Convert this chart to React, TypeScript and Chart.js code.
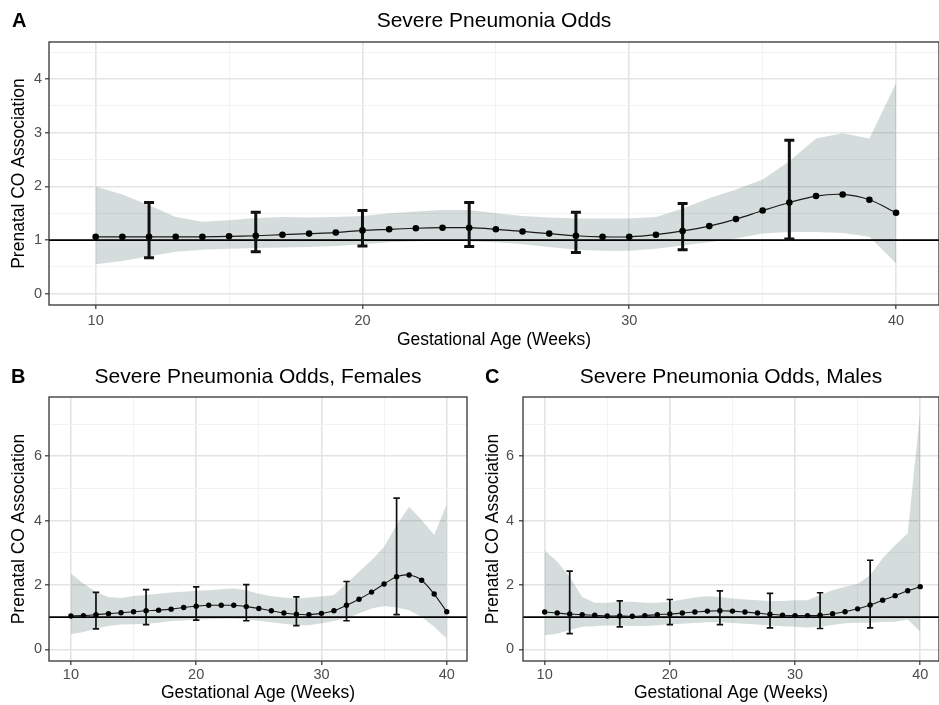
import React, { useEffect, useRef } from "react";
import { Chart, registerables } from "chart.js";

Chart.register(...registerables);

const FONT = "'Liberation Sans', Arial, Helvetica, sans-serif";
const RIBBON = "rgba(47,79,79,0.2)";

// ---- shared axes ----
const weeks = [10, 11, 12, 13, 14, 15, 16, 17, 18, 19, 20, 21, 22, 23, 24, 25, 26, 27, 28, 29, 30, 31, 32, 33, 34, 35, 36, 37, 38, 39, 40];
const errWeeks = [12, 16, 20, 24, 28, 32, 36];
const xTickValues = [10, 15, 20, 25, 30, 35, 40];
const xMajorTicks = [10, 20, 30, 40];
const yTickValuesA = [0, 0.5, 1, 1.5, 2, 2.5, 3, 3.5, 4, 4.5];
const yMajorTicksA = [0, 1, 2, 3, 4];
const yTickValuesBC = [0, 1, 2, 3, 4, 5, 6, 7];
const yMajorTicksBC = [0, 2, 4, 6];

// ---- Panel A: all ----
const estA = [1.06, 1.06, 1.06, 1.06, 1.06, 1.07, 1.08, 1.10, 1.12, 1.14, 1.18, 1.20, 1.22, 1.23, 1.23, 1.20, 1.16, 1.12, 1.08, 1.06, 1.06, 1.10, 1.17, 1.26, 1.39, 1.55, 1.70, 1.82, 1.85, 1.75, 1.51];
const upperA = [2.00, 1.85, 1.65, 1.43, 1.34, 1.37, 1.41, 1.43, 1.42, 1.43, 1.45, 1.50, 1.53, 1.56, 1.56, 1.50, 1.45, 1.42, 1.40, 1.40, 1.40, 1.43, 1.59, 1.78, 1.94, 2.13, 2.47, 2.89, 2.99, 2.89, 3.92];
const lowerA = [0.55, 0.61, 0.70, 0.78, 0.82, 0.84, 0.85, 0.86, 0.87, 0.89, 0.92, 0.96, 0.98, 0.99, 0.98, 0.96, 0.92, 0.87, 0.82, 0.80, 0.80, 0.84, 0.90, 0.96, 1.03, 1.12, 1.15, 1.15, 1.13, 1.06, 0.57];
const errLoA = [0.67, 0.78, 0.89, 0.88, 0.77, 0.82, 1.02];
const errHiA = [1.70, 1.52, 1.55, 1.70, 1.52, 1.68, 2.86];

// ---- Panel B: females ----
const estB = [1.04, 1.05, 1.08, 1.11, 1.14, 1.17, 1.20, 1.22, 1.25, 1.30, 1.34, 1.37, 1.37, 1.37, 1.33, 1.27, 1.20, 1.13, 1.09, 1.08, 1.12, 1.20, 1.37, 1.56, 1.78, 2.03, 2.26, 2.31, 2.15, 1.72, 1.17];
const upperB = [2.36, 2.05, 1.78, 1.63, 1.60, 1.66, 1.69, 1.73, 1.77, 1.79, 1.82, 1.84, 1.87, 1.89, 1.84, 1.73, 1.65, 1.61, 1.58, 1.61, 1.64, 1.69, 2.05, 2.41, 2.77, 3.19, 3.86, 4.43, 4.02, 3.55, 4.51];
const lowerB = [0.47, 0.54, 0.65, 0.73, 0.77, 0.78, 0.80, 0.83, 0.88, 0.90, 0.93, 0.94, 0.95, 0.95, 0.93, 0.89, 0.84, 0.80, 0.75, 0.75, 0.81, 0.88, 0.96, 1.12, 1.27, 1.35, 1.30, 1.22, 1.01, 0.70, 0.34];
const errLoB = [0.64, 0.77, 0.91, 0.89, 0.74, 0.89, 1.08];
const errHiB = [1.77, 1.86, 1.94, 2.01, 1.63, 2.11, 4.70];

// ---- Panel C: males ----
const estC = [1.16, 1.13, 1.10, 1.08, 1.06, 1.04, 1.04, 1.03, 1.05, 1.08, 1.10, 1.13, 1.16, 1.19, 1.20, 1.19, 1.16, 1.13, 1.09, 1.06, 1.05, 1.05, 1.06, 1.11, 1.17, 1.26, 1.38, 1.53, 1.67, 1.82, 1.95];
const upperC = [3.07, 2.73, 2.25, 1.63, 1.45, 1.45, 1.48, 1.48, 1.45, 1.45, 1.48, 1.55, 1.61, 1.65, 1.63, 1.58, 1.55, 1.53, 1.50, 1.50, 1.53, 1.53, 1.69, 1.84, 1.95, 2.03, 2.31, 2.83, 3.24, 3.60, 7.40];
const lowerC = [0.44, 0.49, 0.60, 0.70, 0.72, 0.74, 0.74, 0.73, 0.73, 0.75, 0.78, 0.80, 0.82, 0.84, 0.84, 0.82, 0.80, 0.77, 0.74, 0.72, 0.70, 0.68, 0.70, 0.76, 0.81, 0.83, 0.83, 0.85, 0.86, 0.93, 0.55];
const errLoC = [0.49, 0.70, 0.77, 0.77, 0.67, 0.65, 0.67];
const errHiC = [2.43, 1.51, 1.55, 1.82, 1.74, 1.76, 2.77];

const REF_VALUE = 1;
const X_TITLE = "Gestational Age (Weeks)";
const Y_TITLE = "Prenatal CO Association";

type Spec = {
  est: number[];
  upper: number[];
  lower: number[];
  errLo: number[];
  errHi: number[];
  yTicks: number[];
  yMajor: number[];
  yMin: number;
  yMax: number;
  xMin: number;
  xMax: number;
  pad: { top: number; right: number; left: number; bottom: number };
  yWidth: number;
  xHeight: number;
  xTitlePad: number;
  yTitlePad: number;
  yTickPad: number;
  xTickPad: number;
  pointR: number;
  lineW: number;
  errW: number;
  capHalf: number;
  hlineW: number;
};

const decoPlugin = {
  id: "deco",
  afterDatasetDraw(chart: any, args: any, opts: any) {
    if (args.index !== 0) return;
    const { ctx, chartArea, scales } = chart;
    const x = scales.x;
    const y = scales.y;
    ctx.save();
    ctx.beginPath();
    ctx.rect(chartArea.left, chartArea.top, chartArea.right - chartArea.left, chartArea.bottom - chartArea.top);
    ctx.clip();
    // reference line
    const yp = y.getPixelForValue(REF_VALUE);
    ctx.strokeStyle = "#000";
    ctx.lineWidth = opts.hlineW;
    ctx.beginPath();
    ctx.moveTo(chartArea.left, yp);
    ctx.lineTo(chartArea.right, yp);
    ctx.stroke();
    // error bars
    ctx.strokeStyle = "#111";
    ctx.lineWidth = opts.errW;
    ctx.lineCap = "butt";
    errWeeks.forEach((w: number, i: number) => {
      const xp = x.getPixelForValue(w);
      const lo = y.getPixelForValue(opts.errLo[i]);
      const hi = y.getPixelForValue(opts.errHi[i]);
      ctx.beginPath();
      ctx.moveTo(xp, lo);
      ctx.lineTo(xp, hi);
      ctx.moveTo(xp - opts.capHalf, lo);
      ctx.lineTo(xp + opts.capHalf, lo);
      ctx.moveTo(xp - opts.capHalf, hi);
      ctx.lineTo(xp + opts.capHalf, hi);
      ctx.stroke();
    });
    ctx.restore();
  },
  afterDraw(chart: any) {
    const { ctx, chartArea } = chart;
    ctx.save();
    ctx.strokeStyle = "#333333";
    ctx.lineWidth = 1.3;
    ctx.strokeRect(chartArea.left, chartArea.top, chartArea.right - chartArea.left, chartArea.bottom - chartArea.top);
    ctx.restore();
  },
};

function makeChart(canvas: HTMLCanvasElement, s: Spec) {
  const pts = (arr: number[]) => weeks.map((w, i) => ({ x: w, y: arr[i] }));
  const isMajX = (v: number) => xMajorTicks.includes(v);
  const isMajY = (v: number) => s.yMajor.includes(v);
  return new Chart(canvas, {
    type: "line",
    data: {
      datasets: [
        {
          data: pts(s.upper),
          fill: "+1",
          backgroundColor: RIBBON,
          borderColor: "rgba(0,0,0,0)",
          borderWidth: 0,
          pointRadius: 0,
          tension: 0,
          order: 2,
        },
        {
          data: pts(s.lower),
          fill: false,
          borderColor: "rgba(0,0,0,0)",
          borderWidth: 0,
          pointRadius: 0,
          tension: 0,
          order: 2,
        },
        {
          data: pts(s.est),
          fill: false,
          borderColor: "#1a1a1a",
          borderWidth: s.lineW,
          pointRadius: s.pointR,
          pointBackgroundColor: "#000",
          pointBorderWidth: 0,
          tension: 0.3,
          order: 0,
        },
      ],
    },
    options: {
      animation: false,
      responsive: false,
      events: [],
      layout: { padding: s.pad, autoPadding: false },
      plugins: {
        legend: { display: false },
        tooltip: { enabled: false },
        deco: {
          errLo: s.errLo,
          errHi: s.errHi,
          errW: s.errW,
          capHalf: s.capHalf,
          hlineW: s.hlineW,
        },
      } as any,
      scales: {
        x: {
          type: "linear",
          min: s.xMin,
          max: s.xMax,
          afterBuildTicks: (sc: any) => {
            sc.ticks = xTickValues.map((v) => ({ value: v }));
          },
          afterFit: (sc: any) => {
            sc.height = s.xHeight;
          },
          border: { display: false },
          grid: {
            color: (c: any) => (c.tick && isMajX(c.tick.value) ? "#e4e4e4" : "#f1f1f1"),
            lineWidth: (c: any) => (c.tick && isMajX(c.tick.value) ? 1.6 : 0.9),
            tickColor: (c: any) => (c.tick && isMajX(c.tick.value) ? "#333333" : "rgba(0,0,0,0)"),
            tickLength: 4,
            tickWidth: 1.2,
            drawTicks: true,
          },
          ticks: {
            autoSkip: false,
            maxRotation: 0,
            minRotation: 0,
            padding: s.xTickPad,
            color: "#4d4d4d",
            font: { family: FONT, size: 14.5 },
            callback: (v: any) => (isMajX(Number(v)) ? String(v) : ""),
          },
          title: {
            display: true,
            text: X_TITLE,
            color: "#000",
            font: { family: FONT, size: 17.5 },
            padding: { top: 0, bottom: s.xTitlePad },
          },
        },
        y: {
          type: "linear",
          min: s.yMin,
          max: s.yMax,
          afterBuildTicks: (sc: any) => {
            sc.ticks = s.yTicks.map((v) => ({ value: v }));
          },
          afterFit: (sc: any) => {
            sc.width = s.yWidth;
          },
          border: { display: false },
          grid: {
            color: (c: any) => (c.tick && isMajY(c.tick.value) ? "#e4e4e4" : "#f1f1f1"),
            lineWidth: (c: any) => (c.tick && isMajY(c.tick.value) ? 1.6 : 0.9),
            tickColor: (c: any) => (c.tick && isMajY(c.tick.value) ? "#333333" : "rgba(0,0,0,0)"),
            tickLength: 4,
            tickWidth: 1.2,
            drawTicks: true,
          },
          ticks: {
            autoSkip: false,
            padding: s.yTickPad,
            color: "#4d4d4d",
            font: { family: FONT, size: 14.5 },
            callback: (v: any) => (isMajY(Number(v)) ? String(v) : ""),
          },
          title: {
            display: true,
            text: Y_TITLE,
            color: "#000",
            font: { family: FONT, size: 17.5 },
            padding: { top: s.yTitlePad, bottom: 0 },
          },
        },
      },
    } as any,
    plugins: [decoPlugin as any],
  });
}

const specA: Spec = {
  est: estA, upper: upperA, lower: lowerA, errLo: errLoA, errHi: errHiA,
  yTicks: yTickValuesA, yMajor: yMajorTicksA, yMin: -0.21, yMax: 4.69,
  xMin: 8.25, xMax: 41.61,
  pad: { top: 42, right: 0, left: 0, bottom: 0 },
  yWidth: 49, xHeight: 47, xTitlePad: 1.5, yTitlePad: 8.8, yTickPad: 3, xTickPad: 3,
  pointR: 3.3, lineW: 1.2, errW: 3, capHalf: 5, hlineW: 1.8,
};

const specB: Spec = {
  est: estB, upper: upperB, lower: lowerB, errLo: errLoB, errHi: errHiB,
  yTicks: yTickValuesBC, yMajor: yMajorTicksBC, yMin: -0.36, yMax: 7.84,
  xMin: 8.25, xMax: 41.62,
  pad: { top: 45, right: 3, left: 0, bottom: 0 },
  yWidth: 49, xHeight: 44, xTitlePad: 1, yTitlePad: 8.8, yTickPad: 3, xTickPad: 1.5,
  pointR: 2.7, lineW: 1.1, errW: 1.7, capHalf: 3.2, hlineW: 1.8,
};

const specC: Spec = {
  est: estC, upper: upperC, lower: lowerC, errLo: errLoC, errHi: errHiC,
  yTicks: yTickValuesBC, yMajor: yMajorTicksBC, yMin: -0.36, yMax: 7.84,
  xMin: 8.27, xMax: 41.5,
  pad: { top: 45, right: 0, left: 0, bottom: 0 },
  yWidth: 53, xHeight: 44, xTitlePad: 1, yTitlePad: 12.2, yTickPad: 5, xTickPad: 1.5,
  pointR: 2.7, lineW: 1.1, errW: 1.7, capHalf: 3.2, hlineW: 1.8,
};

const titleStyle = (left: number, width: number, top: number): React.CSSProperties => ({
  position: "absolute",
  left,
  width,
  top,
  fontSize: 21,
  lineHeight: "21px",
  textAlign: "center",
  whiteSpace: "nowrap",
  color: "#000",
});

const letterStyle = (left: number, top: number): React.CSSProperties => ({
  position: "absolute",
  left,
  top,
  fontSize: 20,
  lineHeight: "20px",
  fontWeight: "bold",
  color: "#000",
});

export default function App() {
  const aRef = useRef<HTMLCanvasElement>(null);
  const bRef = useRef<HTMLCanvasElement>(null);
  const cRef = useRef<HTMLCanvasElement>(null);

  useEffect(() => {
    const charts = [
      makeChart(aRef.current as HTMLCanvasElement, specA),
      makeChart(bRef.current as HTMLCanvasElement, specB),
      makeChart(cRef.current as HTMLCanvasElement, specC),
    ];
    return () => charts.forEach((c) => c.destroy());
  }, []);

  return (
    <div
      style={{
        position: "absolute",
        left: 0,
        top: 0,
        width: 939,
        height: 705,
        background: "#fff",
        overflow: "hidden",
        fontFamily: FONT,
      }}
    >
      <canvas ref={aRef} width={939} height={352} style={{ position: "absolute", left: 0, top: 0, width: 939, height: 352 }} />
      <canvas ref={bRef} width={470} height={353} style={{ position: "absolute", left: 0, top: 352, width: 470, height: 353 }} />
      <canvas ref={cRef} width={469} height={353} style={{ position: "absolute", left: 470, top: 352, width: 469, height: 353 }} />

      <div style={letterStyle(12, 10.4)}>A</div>
      <div style={titleStyle(49, 890, 9.2)}>Severe Pneumonia Odds</div>

      <div style={letterStyle(11, 365.8)}>B</div>
      <div style={titleStyle(49, 418, 364.9)}>Severe Pneumonia Odds, Females</div>

      <div style={letterStyle(485, 365.8)}>C</div>
      <div style={titleStyle(523, 416, 364.9)}>Severe Pneumonia Odds, Males</div>
    </div>
  );
}
